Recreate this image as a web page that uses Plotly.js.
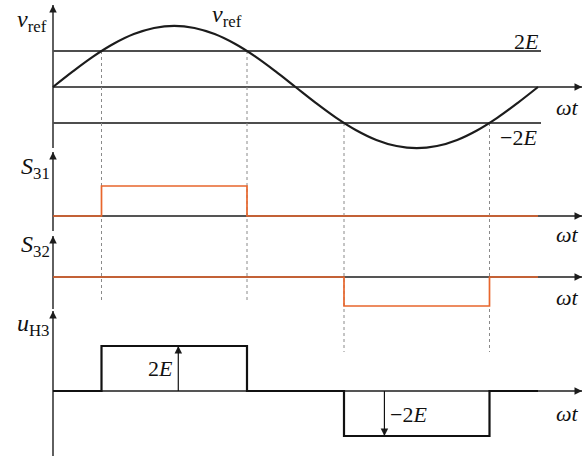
<!DOCTYPE html>
<html>
<head>
<meta charset="utf-8">
<script src="https://cdn.plot.ly/plotly-3.0.1.min.js"></script>
<style>
  html, body { margin: 0; padding: 0; background: #ffffff; }
  #chart { width: 586px; height: 456px; }
</style>
</head>
<body>
<div id="chart"></div>
<script>
// Reference voltage over one fundamental period (phase in degrees, value in units of E)
const phaseDeg = [0, 15, 30, 45, 60, 75, 90, 105, 120, 135, 150, 165, 180,
                  195, 210, 225, 240, 255, 270, 285, 300, 315, 330, 345, 360];
const vrefVals = [0, 0.88, 1.70, 2.40, 2.94, 3.28, 3.40, 3.28, 2.94, 2.40, 1.70, 0.88, 0,
                  -0.88, -1.70, -2.40, -2.94, -3.28, -3.40, -3.28, -2.94, -2.40, -1.70, -0.88, 0];

// Comparison thresholds (units of E)
const upperLevel = 2;
const lowerLevel = -2;

// Switching instants where v_ref crosses ±2E (degrees)
const switchDeg = [36, 144, 216, 324];

// Gate signals (step traces, value held until next instant)
const s31Time = [0, 36, 144, 360];
const s31Vals = [0, 1, 0, 0];
const s32Time = [0, 216, 324, 360];
const s32Vals = [0, -1, 0, 0];

// Output voltage of H-bridge cell 3 (units of E)
const uh3Time = [0, 36, 144, 216, 324, 360];
const uh3Vals = [0, 2, 0, -2, 0, 0];

// Where the ±2E magnitudes are marked on u_H3
const uh3MarkDeg = [93, 246];

// ---- geometry helpers ----
const W = 586, H = 456;
const originPx = 53, degPx = 485 / 360;
const xRange = [-originPx / degPx, (W - originPx) / degPx];
// y axis range from the pixel row of zero and pixels per unit
function yRange(zeroPx, unitPx) { return [-(H - zeroPx) / unitPx, zeroPx / unitPx]; }
const px = v => v / W;
const py = v => 1 - v / H;

const panels = {
  y:  { zero: 87,  unit: 18 },
  y2: { zero: 216, unit: 30 },
  y3: { zero: 277, unit: 29 },
  y4: { zero: 391, unit: 22.5 }
};
const toVal = (axis, pix) => (panels[axis].zero - pix) / panels[axis].unit;

const ink = '#1c1c1c';
const orange = '#e8662c';
const serif = 'Liberation Serif';

const traces = [
  { x: phaseDeg, y: vrefVals, yaxis: 'y', mode: 'lines',
    line: { color: ink, width: 2.2, shape: 'spline', smoothing: 1.0 }, hoverinfo: 'skip' },
  { x: s31Time, y: s31Vals, yaxis: 'y2', mode: 'lines',
    line: { color: orange, width: 1.7, shape: 'hv' }, hoverinfo: 'skip' },
  { x: s32Time, y: s32Vals, yaxis: 'y3', mode: 'lines',
    line: { color: orange, width: 1.7, shape: 'hv' }, hoverinfo: 'skip' },
  { x: uh3Time, y: uh3Vals, yaxis: 'y4', mode: 'lines',
    line: { color: '#111111', width: 2.2, shape: 'hv' }, hoverinfo: 'skip' }
];

const shapes = [];
const annotations = [];
const heads = { y: [], y2: [], y3: [], y4: [] };

// axis line with an arrowhead marker at its tip
function axisArrow(x0, y0, x1, y1, yref, symbol) {
  shapes.push({ type: 'line', xref: 'x', yref: yref, x0: x0, y0: y0, x1: x1, y1: y1,
    layer: 'below', line: { color: ink, width: 1.4 } });
  heads[yref].push({ x: x1, y: y1, s: symbol });
}

const xEnd = (582 - originPx) / degPx;
// v_ref panel axes
axisArrow(0, toVal('y', 148), 0, toVal('y', 5), 'y', 'arrow-up');
axisArrow(0, 0, xEnd, 0, 'y', 'arrow-right');
// S31
axisArrow(0, toVal('y2', 231), 0, toVal('y2', 152), 'y2', 'arrow-up');
axisArrow(0, 0, xEnd, 0, 'y2', 'arrow-right');
// S32
axisArrow(0, toVal('y3', 309), 0, toVal('y3', 236), 'y3', 'arrow-up');
axisArrow(0, 0, xEnd, 0, 'y3', 'arrow-right');
// u_H3
axisArrow(0, toVal('y4', 456), 0, toVal('y4', 311), 'y4', 'arrow-up');
axisArrow(0, 0, xEnd, 0, 'y4', 'arrow-right');

// ±2E comparison levels
const levelEnd = (541 - originPx) / degPx;
[upperLevel, lowerLevel].forEach(lv => {
  shapes.push({ type: 'line', xref: 'x', yref: 'y', x0: 0, x1: levelEnd, y0: lv, y1: lv,
    layer: 'below', line: { color: '#4d4d4d', width: 1.8 } });
});

// dotted projection lines from the crossings
switchDeg.forEach((d, i) => {
  const lv = i < 2 ? upperLevel : lowerLevel;
  const bottomPx = i < 2 ? 303 : 352;
  shapes.push({ type: 'line', xref: 'x', yref: 'y', x0: d, x1: d, y0: lv, y1: toVal('y', bottomPx),
    layer: 'below', line: { color: '#8a8a8a', width: 1, dash: 'dot' } });
});

// ±2E magnitude arrows on u_H3
[[uh3MarkDeg[0], uh3Vals[1]], [uh3MarkDeg[1], uh3Vals[3]]].forEach(([d, v]) => {
  shapes.push({ type: 'line', xref: 'x', yref: 'y4', x0: d, x1: d, y0: 0, y1: v,
    line: { color: '#111111', width: 1.2 } });
  heads.y4.push({ x: d, y: v, s: v > 0 ? 'arrow-up' : 'arrow-down' });
});

// arrowhead markers, one trace per panel axis
Object.keys(heads).forEach(ax => {
  const h = heads[ax];
  traces.push({ x: h.map(p => p.x), y: h.map(p => p.y), yaxis: ax, mode: 'markers',
    marker: { symbol: h.map(p => p.s), size: 7.5, color: ink, line: { width: 0 } },
    hoverinfo: 'skip', cliponaxis: false });
});

// text labels
function label(text, x, y, size, xanchor) {
  annotations.push({ xref: 'paper', yref: 'paper', x: px(x), y: py(y), text: text,
    showarrow: false, xanchor: xanchor || 'center', yanchor: 'middle',
    font: { family: serif, size: size, color: '#111111' } });
}
label('<i>v</i><sub>ref</sub>', 15, 21, 24, 'left');
label('<i>v</i><sub>ref</sub>', 210, 16, 24, 'left');
label('2<i>E</i>', 526, 42, 22);
label('\u22122<i>E</i>', 518, 137, 22);
label('<i>ωt</i>', 567, 107, 22);
label('<i>S</i><sub>31</sub>', 19, 168, 24, 'left');
label('<i>ωt</i>', 567, 234, 22);
label('<i>S</i><sub>32</sub>', 19, 246, 24, 'left');
label('<i>ωt</i>', 567, 297, 22);
label('<i>u</i><sub>H3</sub>', 15, 325, 24, 'left');
label('2<i>E</i>', 160, 368, 22);
label('\u22122<i>E</i>', 408, 414, 22);
label('<i>ωt</i>', 567, 413, 22);

const hidden = { visible: false, fixedrange: true };
const layout = {
  width: W, height: H,
  margin: { l: 0, r: 0, t: 0, b: 0, pad: 0 },
  paper_bgcolor: '#ffffff', plot_bgcolor: '#ffffff',
  showlegend: false,
  xaxis: Object.assign({ range: xRange, domain: [0, 1] }, hidden),
  yaxis: Object.assign({ range: yRange(panels.y.zero, panels.y.unit), domain: [0, 1] }, hidden),
  yaxis2: Object.assign({ range: yRange(panels.y2.zero, panels.y2.unit), overlaying: 'y' }, hidden),
  yaxis3: Object.assign({ range: yRange(panels.y3.zero, panels.y3.unit), overlaying: 'y' }, hidden),
  yaxis4: Object.assign({ range: yRange(panels.y4.zero, panels.y4.unit), overlaying: 'y' }, hidden),
  shapes: shapes,
  annotations: annotations
};

Plotly.newPlot('chart', traces, layout, { staticPlot: true, displayModeBar: false });
</script>
</body>
</html>
